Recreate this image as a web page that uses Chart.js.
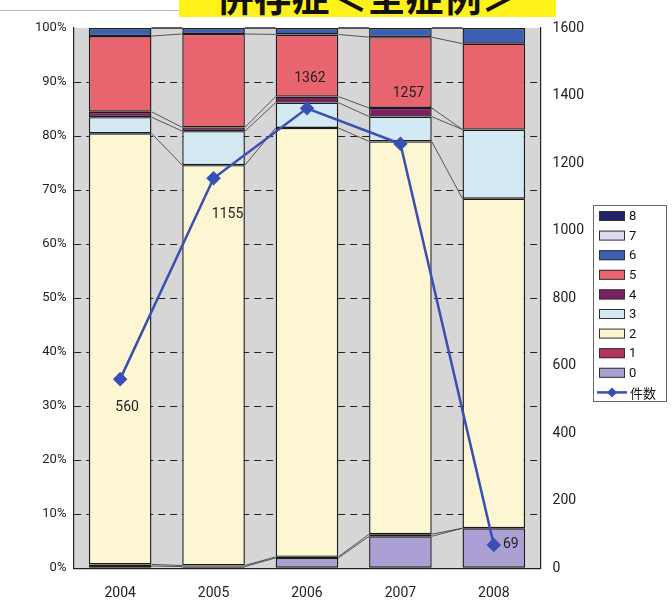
<!DOCTYPE html>
<html>
<head>
<meta charset="utf-8">
<script src="https://cdn.jsdelivr.net/npm/chart.js@4.4.1/dist/chart.umd.min.js"></script>
<style>
  html, body { margin: 0; padding: 0; background: #fff; overflow: hidden; }
  #wrap { position: relative; width: 672px; height: 613px; }
  #banner {
    position: absolute; left: 179px; top: -27px; width: 377px; height: 44px;
    background: #fff21a; color: #111; font: bold 38px 'Noto Sans CJK JP', sans-serif;
    text-align: center; line-height: 44px; overflow: hidden; z-index: 2;
  }
  #topline { position: absolute; left: 0; top: 10px; width: 180px; border-top: 1px solid #bbb; }
  canvas { position: absolute; left: 0; top: 0; }
</style>
</head>
<body>
<div id="wrap">
  <div id="topline"></div>
  <div id="banner">併存症＜全症例＞</div>
  <canvas id="chart" width="672" height="613"></canvas>
</div>
<script>
// 年度
const years = ['2004', '2005', '2006', '2007', '2008'];

// 各区分の割合 (%)
const grade0 = [0.4, 0.3, 1.9, 5.9, 7.4];
const grade1 = [0.3, 0.2, 0.2, 0.4, 0.0];
const grade2 = [79.8, 74.1, 79.4, 72.7, 61.0];
const grade3 = [3.0, 6.3, 4.7, 4.6, 12.8];
const grade4 = [1.0, 0.7, 1.1, 1.6, 0.0];
const grade5 = [14.0, 17.3, 11.5, 13.1, 15.9];
const grade6 = [1.5, 1.1, 1.2, 1.7, 2.9];
const grade7 = [0, 0, 0, 0, 0];
const grade8 = [0, 0, 0, 0, 0];

// 件数
const counts = [560, 1155, 1362, 1257, 69];

const pctTicks = [0, 10, 20, 30, 40, 50, 60, 70, 80, 90, 100];
const countTicks = [0, 200, 400, 600, 800, 1000, 1200, 1400, 1600];

// ラベルのずらし量 (px)
const labelOffsets = [[7, 28], [14, 36], [3, -30], [8, -50], [17, 0]];

const font = "Roboto, 'Liberation Sans', sans-serif";
const lineColor = '#3a4fb3';

function bar(label, data, color) {
  return {
    type: 'bar', label: label, data: data, yAxisID: 'y',
    backgroundColor: color, borderColor: '#1a1a1a', borderWidth: 1.4,
    borderSkipped: false, barPercentage: 0.67, categoryPercentage: 1, order: 2
  };
}

// 棒の間をつなぐ線
const seriesLines = {
  id: 'seriesLines',
  beforeDatasetsDraw(chart) {
    const ctx = chart.ctx;
    ctx.save();
    ctx.strokeStyle = '#333';
    ctx.lineWidth = 0.8;
    chart.data.datasets.forEach((ds, di) => {
      if (ds.type !== 'bar') return;
      const meta = chart.getDatasetMeta(di);
      for (let i = 0; i < meta.data.length - 1; i++) {
        const a = meta.data[i], b = meta.data[i + 1];
        ctx.beginPath();
        ctx.moveTo(a.x + a.width / 2, a.y);
        ctx.lineTo(b.x - b.width / 2, b.y);
        ctx.stroke();
      }
    });
    ctx.restore();
  }
};

// 背景・件数ラベル・凡例
const extras = {
  id: 'extras',
  beforeDraw(chart) {
    const a = chart.chartArea, ctx = chart.ctx;
    ctx.save();
    ctx.fillStyle = '#d6d6d6';
    ctx.fillRect(a.left, a.top, a.right - a.left, a.bottom - a.top);
    ctx.restore();
  },
  afterDraw(chart) {
    const ctx = chart.ctx;
    const idx = chart.data.datasets.findIndex(d => d.type === 'line');
    const meta = chart.getDatasetMeta(idx);
    ctx.save();
    ctx.font = '14px ' + font;
    ctx.fillStyle = '#222';
    ctx.textAlign = 'center';
    ctx.textBaseline = 'middle';
    meta.data.forEach((p, i) => {
      ctx.fillText(String(counts[i]), p.x + labelOffsets[i][0], p.y + labelOffsets[i][1]);
    });

    // 凡例
    const lx = 593, ly = 205, lw = 73, lh = 196, step = 19.6;
    ctx.fillStyle = '#fff';
    ctx.fillRect(lx, ly, lw, lh);
    ctx.strokeStyle = '#666';
    ctx.lineWidth = 1;
    ctx.strokeRect(lx + 0.5, ly + 0.5, lw, lh);
    const bars = chart.data.datasets.filter(d => d.type === 'bar').slice().reverse();
    ctx.font = '13px ' + font;
    ctx.textAlign = 'left';
    bars.forEach((ds, k) => {
      const y = ly + 11 + k * step;
      ctx.fillStyle = ds.backgroundColor;
      ctx.fillRect(lx + 6, y - 5, 26, 10);
      ctx.strokeStyle = '#333';
      ctx.strokeRect(lx + 6.5, y - 4.5, 25, 9);
      ctx.fillStyle = '#111';
      ctx.fillText(ds.label, lx + 36, y + 1);
    });
    const y = ly + 11 + bars.length * step;
    ctx.strokeStyle = lineColor;
    ctx.lineWidth = 2.5;
    ctx.beginPath();
    ctx.moveTo(lx + 4, y);
    ctx.lineTo(lx + 34, y);
    ctx.stroke();
    ctx.fillStyle = lineColor;
    ctx.beginPath();
    ctx.moveTo(lx + 19, y - 5);
    ctx.lineTo(lx + 24, y);
    ctx.lineTo(lx + 19, y + 5);
    ctx.lineTo(lx + 14, y);
    ctx.closePath();
    ctx.fill();
    ctx.fillStyle = '#111';
    ctx.font = '13px Noto Sans CJK JP, sans-serif';
    ctx.fillText('件数', lx + 37, y + 1);
    ctx.restore();
  }
};

new Chart(document.getElementById('chart'), {
  data: {
    labels: years,
    datasets: [
      {
        type: 'line', label: '件数', data: counts, yAxisID: 'y1',
        borderColor: lineColor, backgroundColor: lineColor, borderWidth: 2.5,
        pointStyle: 'rectRot', pointRadius: 5.5, tension: 0, order: 0
      },
      bar('0', grade0, '#ab9fd3'),
      bar('1', grade1, '#b8325e'),
      bar('2', grade2, '#fcf7d2'),
      bar('3', grade3, '#d3e9f3'),
      bar('4', grade4, '#7b1f63'),
      bar('5', grade5, '#e8656f'),
      bar('6', grade6, '#3c5fb2'),
      bar('7', grade7, '#dcdaf0'),
      bar('8', grade8, '#22226a')
    ]
  },
  options: {
    responsive: false,
    animation: false,
    layout: { padding: { left: 28, right: 76, top: 28, bottom: 2 } },
    plugins: {
      tooltip: { enabled: false },
      legend: { display: false }
    },
    scales: {
      x: {
        stacked: true,
        grid: { display: false },
        border: { display: true, color: '#222', width: 1.2 },
        ticks: { color: '#222', font: { family: font, size: 14 }, padding: 9 }
      },
      y: {
        stacked: true, min: 0, max: 100, position: 'left',
        afterBuildTicks: (s) => { s.ticks = pctTicks.map(v => ({ value: v })); },
        grid: {
          color: (c) => (c.tick && (c.tick.value === 0 || c.tick.value === 100)) ? 'rgba(0,0,0,0)' : '#222',
          lineWidth: 1, drawTicks: false
        },
        border: { display: true, color: '#222', width: 1.2, dash: [7, 5] },
        ticks: { color: '#222', font: { family: font, size: 13 }, padding: 7, callback: v => v + '%' }
      },
      y1: {
        min: 0, max: 1600, position: 'right',
        afterBuildTicks: (s) => { s.ticks = countTicks.map(v => ({ value: v })); },
        grid: { drawOnChartArea: false, drawTicks: false },
        border: { display: true, color: '#222', width: 1.2 },
        ticks: { color: '#222', font: { family: font, size: 14 }, padding: 12, callback: v => String(v) }
      }
    }
  },
  plugins: [seriesLines, extras]
});
</script>
</body>
</html>
